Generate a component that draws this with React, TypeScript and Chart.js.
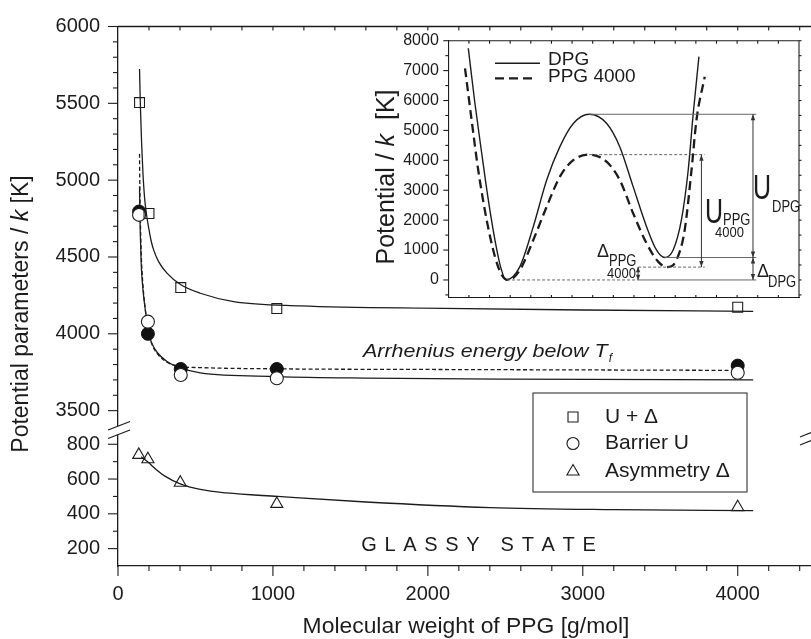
import React, { useEffect, useRef } from 'react';
import { Chart, registerables } from 'chart.js';
Chart.register(...registerables);

const FONT = '"Liberation Sans", Arial, Helvetica, sans-serif';
const INK = '#1c1c1c';

// ---------- main chart data ----------
const mwUD = [139, 200, 405, 1025, 4000];
const uPlusDelta = [5505, 4783, 4301, 4164, 4173];
const mwBarrier = [136, 193, 405, 1025, 4000];
const barrierU = [4774, 4079, 3732, 3711, 3747];
const arrheniusE = [4796, 4000, 3771, 3771, 3793];
const mwAsym = [134, 193, 402, 1025, 4000];
const asymmetryD = [739, 714, 579, 457, 438];

const fitUDx = [139, 144, 152, 161, 172, 185, 198, 213, 230, 262, 316, 406, 531, 746, 1176, 2100, 3000, 4100];
const fitUDy = [5723, 5500, 5250, 5046, 4880, 4770, 4690, 4609, 4546, 4470, 4395, 4319, 4264, 4210, 4182, 4166, 4155, 4146];
const fitUx = [139, 141, 144, 150, 160, 175, 187, 198, 220, 252, 316, 402, 531, 1028, 1600, 2500, 4100];
const fitUy = [4958, 4800, 4650, 4450, 4300, 4165, 4079, 4005, 3935, 3880, 3820, 3778, 3746, 3722, 3712, 3705, 3700];
const fitEx = [139, 141, 144, 150, 160, 175, 187, 198, 220, 252, 316, 402, 531, 1028, 2000, 3000, 4000];
const fitEy = [5171, 4950, 4760, 4520, 4330, 4170, 4080, 4003, 3930, 3872, 3815, 3788, 3780, 3772, 3768, 3765, 3762];
const fitDx = [150, 193, 250, 300, 402, 531, 700, 1030, 1600, 2400, 3200, 4100];
const fitDy = [728, 698, 652, 618, 572, 540, 520, 500, 468, 436, 424, 418];

const xTickLabels = [0, 1000, 2000, 3000, 4000];
const yTopTickLabels = [3500, 4000, 4500, 5000, 5500, 6000];
const yBottomTickLabels = [200, 400, 600, 800];
const seriesNames = ['U + \u0394', 'Barrier U', 'Asymmetry \u0394'];

// ---------- inset data ----------
const dpgX = [0.97, 1.29, 1.62, 1.94, 2.26, 2.53, 2.8, 3.47, 4.12, 4.77, 5.41, 6.07, 6.83, 7.67, 8.31, 8.96, 9.61, 10.09, 10.49, 10.9, 11.3, 11.63, 11.87, 12.15];
const dpgY = [7747, 5908, 4236, 2675, 1337, 446, 0, 446, 1783, 3343, 4457, 5238, 5540, 5238, 4457, 3120, 1783, 1003, 750, 1003, 2006, 3678, 5540, 7466];
const ppgX = [0.81, 1.13, 1.45, 1.86, 2.26, 2.59, 2.91, 3.47, 4.12, 4.77, 5.41, 6.07, 6.83, 7.67, 8.31, 8.96, 9.61, 10.17, 10.61, 11.06, 11.46, 11.79, 12.03, 12.43];
const ppgY = [7078, 5349, 3678, 2006, 780, 167, 0, 334, 1337, 2451, 3454, 4012, 4190, 3955, 3343, 2229, 1226, 613, 430, 668, 1672, 3678, 5349, 6797];
const insetTickLabels = [0, 1000, 2000, 3000, 4000, 5000, 6000, 7000, 8000];
const dpgBarrier = 5540;
const dpgAsym = 750;
const ppgBarrier = 4190;
const ppgAsym = 430;
const insetNames = ['DPG', 'PPG 4000'];

const pts = (xs: number[], ys: number[]) => xs.map((x, i) => ({ x, y: ys[i] }));
const fixedTicks = (vals: number[]) => (s: any) => {
  s.ticks = vals.map((v) => ({ value: v }));
};
const fitBox = (w: number | null, h: number | null) => (s: any) => {
  if (w !== null) s.width = w;
  if (h !== null) s.height = h;
  s.paddingLeft = 0;
  s.paddingRight = 0;
  s.paddingTop = 0;
  s.paddingBottom = 0;
};

function seg(ctx: CanvasRenderingContext2D, x1: number, y1: number, x2: number, y2: number) {
  ctx.beginPath();
  ctx.moveTo(x1, y1);
  ctx.lineTo(x2, y2);
  ctx.stroke();
}

function text(ctx: CanvasRenderingContext2D, s: string, x: number, y: number, o: any = {}) {
  ctx.save();
  ctx.translate(x, y);
  ctx.scale(o.sx || 1, o.sy || 1);
  ctx.font = `${o.italic ? 'italic ' : ''}${o.size || 16}px ${FONT}`;
  ctx.textAlign = o.align || 'left';
  ctx.textBaseline = o.baseline || 'alphabetic';
  ctx.fillStyle = o.color || INK;
  ctx.fillText(s, 0, 0);
  const w = ctx.measureText(s).width * (o.sx || 1);
  ctx.restore();
  return w;
}

function rotatedTitle(ctx: CanvasRenderingContext2D, parts: Array<[string, boolean]>, cx: number, cy: number, size: number) {
  ctx.save();
  ctx.translate(cx, cy);
  ctx.rotate(-Math.PI / 2);
  ctx.fillStyle = INK;
  ctx.textBaseline = 'middle';
  ctx.textAlign = 'left';
  const widths = parts.map(([t, it]) => {
    ctx.font = `${it ? 'italic ' : ''}${size}px ${FONT}`;
    return ctx.measureText(t).width;
  });
  const total = widths.reduce((a, b) => a + b, 0);
  let x = -total / 2;
  parts.forEach(([t, it], i) => {
    ctx.font = `${it ? 'italic ' : ''}${size}px ${FONT}`;
    ctx.fillText(t, x, 0);
    x += widths[i];
  });
  ctx.restore();
}

function spacedText(ctx: CanvasRenderingContext2D, s: string, cx: number, cy: number, size: number, spacing: number) {
  ctx.save();
  ctx.font = `${size}px ${FONT}`;
  ctx.fillStyle = INK;
  ctx.textBaseline = 'middle';
  ctx.textAlign = 'left';
  const chars = s.split('');
  const ws = chars.map((c) => ctx.measureText(c).width);
  const total = ws.reduce((a, b) => a + b, 0) + spacing * (chars.length - 1);
  let x = cx - total / 2;
  chars.forEach((c, i) => {
    ctx.fillText(c, x, cy);
    x += ws[i] + spacing;
  });
  ctx.restore();
}

function marker(ctx: CanvasRenderingContext2D, kind: string, x: number, y: number) {
  ctx.save();
  ctx.strokeStyle = INK;
  ctx.lineWidth = 1.1;
  ctx.beginPath();
  if (kind === 'rect') {
    ctx.rect(x - 5, y - 5, 10, 10);
  } else if (kind === 'circle') {
    ctx.arc(x, y, 6, 0, Math.PI * 2);
  } else {
    ctx.moveTo(x, y - 7);
    ctx.lineTo(x + 6.1, y + 3.5);
    ctx.lineTo(x - 6.1, y + 3.5);
    ctx.closePath();
  }
  ctx.stroke();
  ctx.restore();
}

const mainDecor = {
  id: 'mainDecor',
  afterDraw(chart: any) {
    const ctx: CanvasRenderingContext2D = chart.ctx;
    const { left, right, top, bottom } = chart.chartArea;
    const sx = chart.scales.x;
    const sy = chart.scales.y;
    const sy2 = chart.scales.y2;
    ctx.save();
    ctx.strokeStyle = INK;
    ctx.setLineDash([]);
    ctx.lineWidth = 1.3;
    seg(ctx, left, top, right, top);
    ctx.lineWidth = 1.1;
    for (let v = 0; v <= 4400; v += 200) {
      const px = sx.getPixelForValue(v);
      seg(ctx, px, bottom, px, bottom + (v % 1000 === 0 ? 10 : 5));
      if (v > 0) seg(ctx, px, top, px, top + 4);
    }
    for (let v = 3500; v <= 6000; v += 100) {
      const py = sy.getPixelForValue(v);
      seg(ctx, left - (v % 500 === 0 ? 10 : 5), py, left, py);
    }
    for (let v = 200; v <= 800; v += 100) {
      const py = sy2.getPixelForValue(v);
      seg(ctx, left - (v % 200 === 0 ? 10 : 5), py, left, py);
    }
    // axis breaks
    const brk = (x1: number, y1: number, x2: number, y2: number, gap: number) => {
      ctx.fillStyle = '#fff';
      ctx.beginPath();
      ctx.moveTo(x1, y1);
      ctx.lineTo(x2, y2);
      ctx.lineTo(x2, y2 + gap);
      ctx.lineTo(x1, y1 + gap);
      ctx.closePath();
      ctx.fill();
      ctx.lineWidth = 1.2;
      seg(ctx, x1, y1, x2, y2);
      seg(ctx, x1, y1 + gap, x2, y2 + gap);
    };
    brk(108, 430, 130, 421.5, 8.5);
    brk(800, 437, 811, 432.5, 8);

    // axis titles
    rotatedTitle(ctx, [['Potential parameters / ', false], ['k', true], [' [K]', false]], 22, 314, 23);
    text(ctx, 'Molecular weight of PPG [g/mol]', 466, 627, { size: 22, align: 'center', baseline: 'middle', sx: 1.04 });

    // annotations
    const w = text(ctx, 'Arrhenius energy below T', 363, 351.7, { size: 19, italic: true, baseline: 'middle', sx: 1.13 });
    text(ctx, 'f', 363 + w + 1, 359, { size: 12, italic: true, baseline: 'middle' });
    spacedText(ctx, 'GLASSY STATE', 478.5, 545, 20, 7.7);

    // legend
    ctx.strokeStyle = '#333';
    ctx.lineWidth = 1.1;
    ctx.strokeRect(533, 393, 214, 99);
    const rows = [417, 443.5, 471.5];
    const kinds = ['rect', 'circle', 'triangle'];
    rows.forEach((ry, i) => {
      marker(ctx, kinds[i], 573, ry);
      text(ctx, seriesNames[i], 605, ry, { size: 21, baseline: 'middle' });
    });
    ctx.restore();
  },
};

const insetDecor = {
  id: 'insetDecor',
  afterDraw(chart: any) {
    const ctx: CanvasRenderingContext2D = chart.ctx;
    const { left, right, top, bottom } = chart.chartArea;
    const sx = chart.scales.x;
    const sy = chart.scales.y;
    ctx.save();
    ctx.strokeStyle = INK;
    ctx.setLineDash([]);
    ctx.lineWidth = 1.1;
    seg(ctx, left, top, right, top);
    seg(ctx, right, top, right, bottom);
    for (let v = 1; v < 17; v++) {
      const px = sx.getPixelForValue(v);
      seg(ctx, px, bottom, px, bottom - 3);
      seg(ctx, px, top, px, top + 3);
    }
    for (let v = -500; v <= 8000; v += 500) {
      const py = sy.getPixelForValue(v);
      seg(ctx, left - (v % 1000 === 0 ? 5 : 3), py, left, py);
      seg(ctx, right, py, right + 2.5, py);
    }

    // level lines
    const X = (v: number) => sx.getPixelForValue(v);
    const Y = (v: number) => sy.getPixelForValue(v);
    ctx.strokeStyle = '#666';
    ctx.lineWidth = 1;
    seg(ctx, X(6.83), Y(dpgBarrier), X(14.93), Y(dpgBarrier));
    seg(ctx, X(10.49), Y(dpgAsym), X(14.93), Y(dpgAsym));
    seg(ctx, X(9.2), Y(0), X(14.93), Y(0));
    ctx.setLineDash([3, 2]);
    seg(ctx, X(2.85), Y(0), X(9.2), Y(0));
    seg(ctx, X(6.83), Y(ppgBarrier), X(12.43), Y(ppgBarrier));
    seg(ctx, X(9.2), Y(ppgAsym), X(12.43), Y(ppgAsym));
    ctx.setLineDash([]);

    const arrow = (xv: number, v1: number, v2: number) => {
      const x = X(xv);
      const y1 = Y(v1);
      const y2 = Y(v2);
      ctx.strokeStyle = '#333';
      ctx.fillStyle = '#333';
      ctx.lineWidth = 1;
      seg(ctx, x, y1, x, y2);
      const h = Math.min(6, Math.abs(y2 - y1) / 2.5);
      ctx.beginPath();
      ctx.moveTo(x, y1);
      ctx.lineTo(x - 2.2, y1 + h);
      ctx.lineTo(x + 2.2, y1 + h);
      ctx.closePath();
      ctx.fill();
      ctx.beginPath();
      ctx.moveTo(x, y2);
      ctx.lineTo(x - 2.2, y2 - h);
      ctx.lineTo(x + 2.2, y2 - h);
      ctx.closePath();
      ctx.fill();
    };
    arrow(14.77, dpgBarrier, dpgAsym);
    arrow(14.77, dpgAsym, 0);
    arrow(12.27, ppgBarrier, ppgAsym);
    arrow(9.2, ppgAsym, 0);

    // labels (canvas origin is at page (370,30))
    const ox = -370;
    const oy = -30;
    text(ctx, 'U', 753 + ox, 199 + oy, { size: 25, sy: 1.4 });
    text(ctx, 'DPG', 772 + ox, 212 + oy, { size: 13, sy: 1.25 });
    text(ctx, '\u0394', 757 + ox, 277 + oy, { size: 18 });
    text(ctx, 'DPG', 768 + ox, 287 + oy, { size: 13, sy: 1.25 });
    text(ctx, 'U', 705 + ox, 223 + oy, { size: 25, sy: 1.4 });
    text(ctx, 'PPG', 723 + ox, 225 + oy, { size: 13, sy: 1.25 });
    text(ctx, '4000', 715 + ox, 237 + oy, { size: 13, sy: 1.1 });
    text(ctx, '\u0394', 597 + ox, 257 + oy, { size: 18 });
    text(ctx, 'PPG', 609 + ox, 266 + oy, { size: 13, sy: 1.25 });
    text(ctx, '4000', 607 + ox, 278 + oy, { size: 13, sy: 1.1 });

    // legend
    ctx.strokeStyle = INK;
    ctx.lineWidth = 1.5;
    seg(ctx, 495 + ox, 63.3 + oy, 540 + ox, 63.3 + oy);
    ctx.lineWidth = 2.3;
    ctx.setLineDash([9, 5]);
    seg(ctx, 495 + ox, 78.3 + oy, 535 + ox, 78.3 + oy);
    ctx.setLineDash([]);
    text(ctx, insetNames[0], 548 + ox, 60 + oy, { size: 19, baseline: 'middle' });
    text(ctx, insetNames[1], 548 + ox, 77 + oy, { size: 19, baseline: 'middle' });

    rotatedTitle(ctx, [['Potential / ', false], ['k', true], ['  [K]', false]], 387 + ox, 177 + oy, 25);
    ctx.restore();
  },
};

function mainConfig(): any {
  const lineDs = (xs: number[], ys: number[], axis: string, dash: number[], order: number) => ({
    data: pts(xs, ys),
    yAxisID: axis,
    showLine: true,
    pointRadius: 0,
    borderColor: INK,
    borderWidth: 1.3,
    borderDash: dash,
    cubicInterpolationMode: 'monotone',
    fill: false,
    order,
  });
  const tickFont = { family: FONT, size: 20 };
  return {
    type: 'scatter',
    data: {
      datasets: [
        {
          label: seriesNames[0], data: pts(mwUD, uPlusDelta), yAxisID: 'y', pointStyle: 'rect', pointRadius: 7,
          pointBackgroundColor: 'rgba(0,0,0,0)', pointBorderColor: INK, pointBorderWidth: 1.1, order: 0,
        },
        {
          label: seriesNames[1], data: pts(mwBarrier, barrierU), yAxisID: 'y', pointStyle: 'circle', pointRadius: 6.5,
          pointBackgroundColor: '#fff', pointBorderColor: INK, pointBorderWidth: 1.1, order: 1,
        },
        {
          label: 'Arrhenius energy', data: pts(mwBarrier, arrheniusE), yAxisID: 'y', pointStyle: 'circle', pointRadius: 6.5,
          pointBackgroundColor: '#111', pointBorderColor: '#111', pointBorderWidth: 1, order: 2,
        },
        {
          label: seriesNames[2], data: pts(mwAsym, asymmetryD), yAxisID: 'y2', pointStyle: 'triangle', pointRadius: 7,
          pointBackgroundColor: 'rgba(0,0,0,0)', pointBorderColor: INK, pointBorderWidth: 1.1, order: 0,
        },
        lineDs(fitUDx, fitUDy, 'y', [], 5),
        lineDs(fitUx, fitUy, 'y', [], 5),
        lineDs(fitEx, fitEy, 'y', [4, 2.5], 5),
        lineDs(fitDx, fitDy, 'y2', [], 5),
      ],
    },
    options: {
      responsive: false,
      animation: false,
      devicePixelRatio: 1,
      events: [],
      layout: { autoPadding: false, padding: { top: 26.5, left: 0, right: 0, bottom: 0 } },
      plugins: { legend: { display: false }, tooltip: { enabled: false } },
      scales: {
        x: {
          type: 'linear', position: 'bottom', min: 0, max: 4473,
          grid: { display: false, drawTicks: false },
          border: { display: true, color: INK, width: 1.3 },
          afterBuildTicks: fixedTicks(xTickLabels),
          ticks: {
            autoSkip: false, maxRotation: 0, padding: 16, color: INK, font: tickFont,
            callback: (v: number) => String(Math.round(v)),
          },
          afterFit: fitBox(null, 73),
        },
        y: {
          type: 'linear', position: 'left', stack: 'v', stackWeight: 403.5, weight: 2, min: 3374, max: 6000,
          grid: { display: false, drawTicks: false },
          border: { display: true, color: INK, width: 1.3 },
          afterBuildTicks: fixedTicks(yTopTickLabels),
          ticks: {
            autoSkip: false, padding: 18, color: INK, font: tickFont,
            callback: (v: number) => String(Math.round(v)),
          },
          afterFit: fitBox(118, null),
        },
        y2: {
          type: 'linear', position: 'left', stack: 'v', stackWeight: 136, weight: 1, min: 100, max: 882,
          grid: { display: false, drawTicks: false },
          border: { display: true, color: INK, width: 1.3 },
          afterBuildTicks: fixedTicks(yBottomTickLabels),
          ticks: {
            autoSkip: false, padding: 18, color: INK, font: tickFont,
            callback: (v: number) => String(Math.round(v)),
          },
          afterFit: fitBox(118, null),
        },
      },
    },
    plugins: [mainDecor],
  };
}

function insetConfig(): any {
  return {
    type: 'scatter',
    data: {
      datasets: [
        {
          label: insetNames[0], data: pts(dpgX, dpgY), showLine: true, pointRadius: 0, borderColor: INK,
          borderWidth: 1.4, cubicInterpolationMode: 'monotone', fill: false,
        },
        {
          label: insetNames[1], data: pts(ppgX, ppgY), showLine: true, pointRadius: 0, borderColor: INK,
          borderWidth: 2.3, borderDash: [9, 5], cubicInterpolationMode: 'monotone', fill: false,
        },
      ],
    },
    options: {
      responsive: false,
      animation: false,
      devicePixelRatio: 1,
      events: [],
      layout: { autoPadding: false, padding: { top: 10.7, right: 12, left: 0, bottom: 0 } },
      plugins: { legend: { display: false }, tooltip: { enabled: false } },
      scales: {
        x: {
          type: 'linear', min: 0, max: 17,
          grid: { display: false, drawTicks: false },
          border: { display: true, color: INK, width: 1.1 },
          ticks: { display: false },
          afterFit: fitBox(null, 12.1),
        },
        y: {
          type: 'linear', min: -600, max: 8000,
          grid: { display: false, drawTicks: false },
          border: { display: true, color: INK, width: 1.1 },
          afterBuildTicks: fixedTicks(insetTickLabels),
          ticks: {
            autoSkip: false, padding: 9.5, color: INK, font: { family: FONT, size: 16 },
            callback: (v: number) => String(Math.round(v)),
          },
          afterFit: fitBox(78.3, null),
        },
      },
    },
    plugins: [insetDecor],
  };
}

export default function App() {
  const mainRef = useRef<HTMLCanvasElement>(null);
  const insetRef = useRef<HTMLCanvasElement>(null);
  useEffect(() => {
    const main = new Chart(mainRef.current as HTMLCanvasElement, mainConfig());
    const inset = new Chart(insetRef.current as HTMLCanvasElement, insetConfig());
    return () => {
      main.destroy();
      inset.destroy();
    };
  }, []);
  return (
    <div style={{ position: 'absolute', left: 0, top: 0, width: 811, height: 639, background: '#fff', overflow: 'hidden' }}>
      <canvas ref={mainRef} width={811} height={639} style={{ position: 'absolute', left: 0, top: 0, width: 811, height: 639 }} />
      <canvas ref={insetRef} width={441} height={280} style={{ position: 'absolute', left: 370, top: 30, width: 441, height: 280 }} />
    </div>
  );
}
